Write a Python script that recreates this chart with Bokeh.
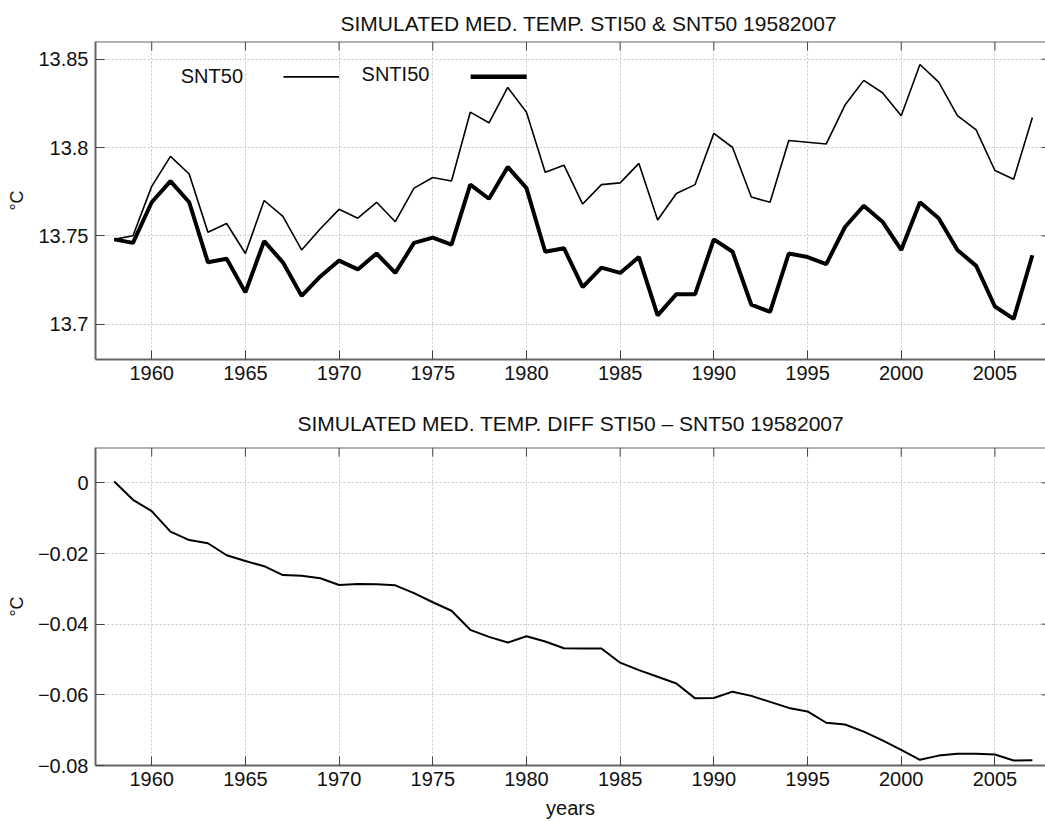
from bokeh.plotting import figure
from bokeh.layouts import column
from bokeh.models import FixedTicker, Range1d, Title, Span
from bokeh.embed import file_html
from bokeh.resources import INLINE
from bokeh.core.properties import value

# ---------------- data ----------------
years = list(range(1958, 2008))

snt50 = [13.748, 13.750, 13.778, 13.795, 13.785, 13.752, 13.757, 13.740, 13.770, 13.761,
         13.742, 13.754, 13.765, 13.760, 13.769, 13.758, 13.777, 13.783, 13.781, 13.820,
         13.814, 13.834, 13.820, 13.786, 13.790, 13.768, 13.779, 13.780, 13.791, 13.759,
         13.774, 13.779, 13.808, 13.800, 13.772, 13.769, 13.804, 13.803, 13.802, 13.824,
         13.838, 13.831, 13.818, 13.847, 13.837, 13.818, 13.810, 13.787, 13.782, 13.817]

snti50 = [13.748, 13.746, 13.769, 13.781, 13.769, 13.735, 13.737, 13.718, 13.747, 13.735,
          13.716, 13.727, 13.736, 13.731, 13.740, 13.729, 13.746, 13.749, 13.745, 13.779,
          13.771, 13.789, 13.777, 13.741, 13.743, 13.721, 13.732, 13.729, 13.738, 13.705,
          13.717, 13.717, 13.748, 13.741, 13.711, 13.707, 13.740, 13.738, 13.734, 13.755,
          13.767, 13.758, 13.742, 13.769, 13.760, 13.742, 13.733, 13.710, 13.703, 13.739]

diff = [0.0004, -0.0048, -0.0080, -0.0138, -0.0162, -0.0171, -0.0205, -0.0221, -0.0236, -0.0261,
        -0.0263, -0.0270, -0.0289, -0.0286, -0.0287, -0.0290, -0.0312, -0.0338, -0.0362, -0.0416,
        -0.0436, -0.0452, -0.0434, -0.0449, -0.0468, -0.0469, -0.0469, -0.0509, -0.0530, -0.0549,
        -0.0568, -0.0610, -0.0609, -0.0591, -0.0603, -0.0620, -0.0637, -0.0647, -0.0679, -0.0684,
        -0.0704, -0.0729, -0.0756, -0.0784, -0.0772, -0.0767, -0.0767, -0.0769, -0.0786, -0.0785]

x_ticks = [1960, 1965, 1970, 1975, 1980, 1985, 1990, 1995, 2000, 2005]
top_y_ticks = [13.7, 13.75, 13.8, 13.85]
top_y_labels = ["13.7", "13.75", "13.8", "13.85"]
bot_y_ticks = [-0.08, -0.06, -0.04, -0.02, 0]
bot_y_labels = ["\u22120.08", "\u22120.06", "\u22120.04", "\u22120.02", "0"]

title_top = "SIMULATED MED. TEMP.  STI50 & SNT50 19582007"
title_bot = "SIMULATED MED. TEMP.  DIFF STI50 \u2013 SNT50 19582007"
legend_labels = ["SNT50", "SNTI50"]

# ---------------- style ----------------
FONT = "Liberation Sans"
FS = "20px"
FRAME = "#666666"
TICK = "#444444"
GRID = "#c8c8c8"
W = 1045
LEFT = 95
FRAME_H = 318
X0, X1 = 1957, 2007.7


def style(p, yticks, ylabels, y0, y1, xlabel=None):
    p.outline_line_color = None
    p.background_fill_color = "white"
    p.border_fill_color = "white"
    # bottom axis
    xa = p.xaxis[0]
    xa.ticker = FixedTicker(ticks=x_ticks)
    xa.major_tick_in = 9
    xa.major_tick_out = 0
    xa.minor_tick_line_color = None
    xa.axis_line_color = FRAME
    xa.axis_line_width = 2
    xa.major_tick_line_color = TICK
    xa.major_label_text_font = FONT
    xa.major_label_text_font_size = FS
    xa.major_label_text_color = "#111111"
    xa.major_label_standoff = 6
    if xlabel:
        xa.axis_label = xlabel
        xa.axis_label_text_font = FONT
        xa.axis_label_text_font_size = FS
        xa.axis_label_text_font_style = "normal"
        xa.axis_label_text_color = "#111111"
        xa.axis_label_standoff = 8
    # left axis
    ya = p.yaxis[0]
    ya.ticker = FixedTicker(ticks=yticks)
    ya.major_label_overrides = {t: l for t, l in zip(yticks, ylabels)}
    ya.major_tick_in = 9
    ya.major_tick_out = 0
    ya.minor_tick_line_color = None
    ya.axis_line_color = FRAME
    ya.axis_line_width = 2
    ya.major_tick_line_color = TICK
    ya.major_label_text_font = FONT
    ya.major_label_text_font_size = FS
    ya.major_label_text_color = "#111111"
    ya.major_label_standoff = 7
    ya.axis_label = "\u00b0C"
    ya.axis_label_text_font = FONT
    ya.axis_label_text_font_size = "18px"
    ya.axis_label_text_font_style = "normal"
    ya.axis_label_text_color = "#111111"
    ya.axis_label_standoff = 8
    # top frame edge (right edge lies beyond the visible area in the original)
    p.add_layout(Span(location=y1, dimension="width", line_color=FRAME, line_width=2))
    # grid
    p.xgrid.ticker = FixedTicker(ticks=x_ticks)
    p.ygrid.ticker = FixedTicker(ticks=yticks)
    for g in (p.xgrid, p.ygrid):
        g.grid_line_color = GRID
        g.grid_line_dash = "2 2"
        g.grid_line_width = 1
    # mirrored tick marks on the top and right frame edges
    dy = (y1 - y0) / FRAME_H
    dx = (X1 - X0) / (W - LEFT)
    p.segment(x0=x_ticks, x1=x_ticks, y0=[y1] * len(x_ticks), y1=[y1 - 9 * dy] * len(x_ticks),
              line_color=TICK, line_width=1)
    p.segment(x0=[X1] * len(yticks), x1=[X1 - 4 * dx] * len(yticks), y0=yticks, y1=yticks,
              line_color=TICK, line_width=1)


# ---------------- top figure ----------------
T1 = (13.68, 13.86)
p1 = figure(width=W, height=389, output_backend="svg", toolbar_location=None,
            x_range=Range1d(X0, X1), y_range=Range1d(*T1),
            min_border_left=LEFT, min_border_right=0, min_border_top=41, min_border_bottom=30)
p1.title = Title(text=title_top, align="left", offset=245, text_font=FONT,
                 text_font_size="21px", text_font_style="normal", text_color="#111111", standoff=14)
style(p1, top_y_ticks, top_y_labels, *T1)

p1.line(years, snt50, line_color="black", line_width=1.6)
p1.line(years, snti50, line_color="black", line_width=4)

# legend drawn as label-then-line pairs
p1.text(x=[1961.55], y=[13.8402], text=[legend_labels[0]], text_font=value(FONT),
        text_font_size=FS, text_baseline="middle", text_align="left", text_color="#111111")
p1.line([1967.03, 1970.0], [13.840, 13.840], line_color="black", line_width=1.6)
p1.text(x=[1971.2], y=[13.8415], text=[legend_labels[1]], text_font=value(FONT),
        text_font_size=FS, text_baseline="middle", text_align="left", text_color="#111111")
p1.line([1977.02, 1980.01], [13.840, 13.840], line_color="black", line_width=4.5)

# ---------------- bottom figure ----------------
T2 = (-0.08, 0.01)
p2 = figure(width=W, height=432, output_backend="svg", toolbar_location=None,
            x_range=Range1d(X0, X1), y_range=Range1d(*T2),
            min_border_left=LEFT, min_border_right=0, min_border_top=58, min_border_bottom=56)
p2.title = Title(text=title_bot, align="left", offset=202, text_font=FONT,
                 text_font_size="21px", text_font_style="normal", text_color="#111111", standoff=25)
style(p2, bot_y_ticks, bot_y_labels, *T2, xlabel="years")

p2.line(years, diff, line_color="black", line_width=2)

layout = column(p1, p2, spacing=0)
open("out.html", "w").write(file_html(layout, INLINE))
